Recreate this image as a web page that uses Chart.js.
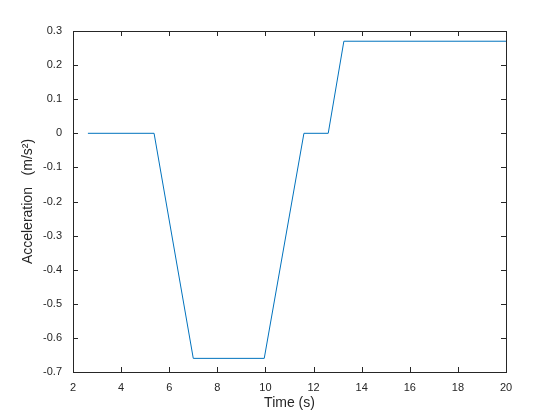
<!DOCTYPE html>
<html>
<head>
<meta charset="utf-8">
<script src="https://cdn.jsdelivr.net/npm/chart.js@4/dist/chart.umd.min.js"></script>
<style>
  html, body { margin: 0; padding: 0; background: #fff; }
  #wrap { width: 560px; height: 420px; }
</style>
</head>
<body>
<div id="wrap"><canvas id="c" width="560" height="420"></canvas></div>
<script>
// time (s) and acceleration (m/s^2)
const timeS = [2.62, 5.37, 7.0, 9.95, 11.6, 12.61, 13.26, 20];
const accel = [0, 0, -0.66, -0.66, 0, 0, 0.27, 0.27];

const xTicks = [2, 4, 6, 8, 10, 12, 14, 16, 18, 20];
const yTicks = [-0.7, -0.6, -0.5, -0.4, -0.3, -0.2, -0.1, 0, 0.1, 0.2, 0.3];

const axisColor = "#262626";
const fontFam = "'Liberation Sans', Arial, Helvetica, sans-serif";

// box around the axes with inward ticks, like matlab
const boxPlugin = {
  id: "box",
  afterDraw(chart) {
    const { ctx, chartArea: a, scales } = chart;
    ctx.save();
    ctx.strokeStyle = axisColor;
    ctx.lineWidth = 1;
    ctx.strokeRect(a.left + 0.5, a.top + 0.5, a.right - a.left, a.bottom - a.top);
    const len = 5;
    ctx.beginPath();
    xTicks.forEach(t => {
      const x = Math.round(scales.x.getPixelForValue(t)) + 0.5;
      ctx.moveTo(x, a.bottom); ctx.lineTo(x, a.bottom - len);
      ctx.moveTo(x, a.top); ctx.lineTo(x, a.top + len);
    });
    yTicks.forEach(t => {
      const y = Math.round(scales.y.getPixelForValue(t)) + 0.5;
      ctx.moveTo(a.left, y); ctx.lineTo(a.left + len, y);
      ctx.moveTo(a.right, y); ctx.lineTo(a.right - len, y);
    });
    ctx.stroke();
    ctx.restore();
  }
};

new Chart(document.getElementById("c"), {
  type: "scatter",
  data: {
    datasets: [{
      data: timeS.map((t, i) => ({ x: t, y: accel[i] })),
      showLine: true,
      borderColor: "#0072BD",
      borderWidth: 1,
      pointRadius: 0,
      fill: false
    }]
  },
  options: {
    responsive: false,
    animation: false,
    layout: { padding: { left: 0, right: 54, top: 31, bottom: 0 } },
    plugins: { legend: { display: false }, tooltip: { enabled: false } },
    scales: {
      x: {
        type: "linear",
        min: 2, max: 20,
        afterBuildTicks: s => { s.ticks = xTicks.map(v => ({ value: v })); },
        afterFit: s => { s.height = 48; },
        grid: { display: false },
        border: { display: false },
        ticks: {
          color: axisColor, padding: 1,
          font: { family: fontFam, size: 11 },
          callback: v => String(v)
        },
        title: {
          display: true, text: "Time (s)", color: axisColor,
          font: { family: fontFam, size: 14 }, padding: { top: 0, bottom: 8 }
        }
      },
      y: {
        min: -0.7, max: 0.3,
        afterBuildTicks: s => { s.ticks = yTicks.map(v => ({ value: v })); },
        afterFit: s => { s.width = 73; },
        grid: { display: false },
        border: { display: false },
        ticks: {
          color: axisColor, padding: 3,
          font: { family: fontFam, size: 11 },
          callback: v => String(Math.round(v * 10) / 10)
        },
        title: {
          display: true, text: "Acceleration   (m/s\u00B2)", color: axisColor,
          font: { family: fontFam, size: 14 }, padding: { top: 20, bottom: 0 }
        }
      }
    }
  },
  plugins: [boxPlugin]
});
</script>
</body>
</html>
